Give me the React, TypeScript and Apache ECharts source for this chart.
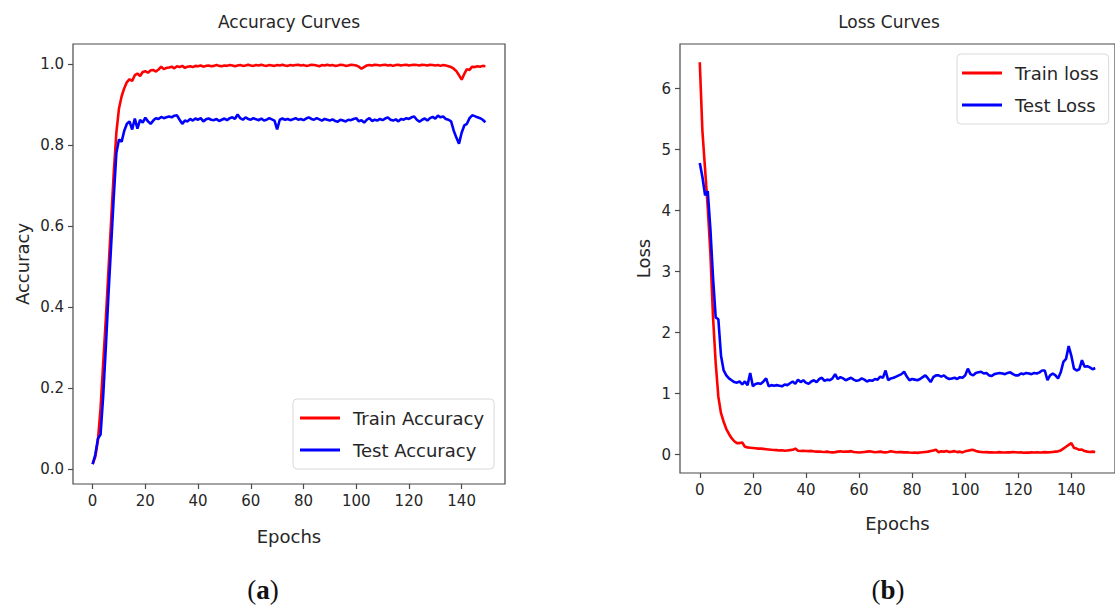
import React, { useEffect, useRef } from "react";
import * as echarts from "echarts";

const epochTicks = [0, 20, 40, 60, 80, 100, 120, 140];
const accTicks = [0, 0.2, 0.4, 0.6, 0.8, 1.0];
const lossTicks = [0, 1, 2, 3, 4, 5, 6];

const trainAcc = [
  0.012, 0.03, 0.07, 0.15, 0.26, 0.37, 0.49, 0.61, 0.73, 0.83,
  0.89, 0.92, 0.94, 0.955, 0.962, 0.958, 0.972, 0.976, 0.97, 0.98,
  0.982, 0.978, 0.984, 0.985, 0.981, 0.986, 0.993, 0.987, 0.99, 0.991,
  0.993, 0.989, 0.994, 0.992, 0.995, 0.99, 0.993, 0.994, 0.992, 0.995,
  0.994, 0.996, 0.993, 0.995, 0.996, 0.994, 0.995, 0.997, 0.995, 0.994,
  0.996, 0.995, 0.997, 0.996, 0.994, 0.996, 0.997, 0.995, 0.996, 0.998,
  0.996, 0.995, 0.997, 0.996, 0.998, 0.996, 0.995, 0.997, 0.996, 0.995,
  0.997, 0.996, 0.998, 0.996, 0.995, 0.997, 0.996, 0.997, 0.998, 0.996,
  0.997, 0.995, 0.996, 0.998, 0.997, 0.996, 0.994, 0.997, 0.996, 0.998,
  0.996, 0.997, 0.995, 0.996, 0.998, 0.997, 0.995, 0.996, 0.998, 0.997,
  0.996, 0.993, 0.988, 0.992, 0.996, 0.997, 0.996, 0.998, 0.997, 0.996,
  0.997, 0.998, 0.996, 0.997, 0.995, 0.997, 0.998, 0.996, 0.997, 0.998,
  0.996, 0.997, 0.998, 0.997, 0.996, 0.998, 0.997, 0.996, 0.998, 0.997,
  0.996, 0.997, 0.995, 0.997, 0.996, 0.994, 0.992, 0.988, 0.982, 0.972,
  0.961, 0.975, 0.987, 0.985, 0.993, 0.992, 0.994, 0.993, 0.995, 0.994,
];

const testAcc = [
  0.012, 0.035, 0.075, 0.085, 0.18, 0.3, 0.43, 0.55, 0.67, 0.78,
  0.813, 0.808, 0.835, 0.852, 0.858, 0.838, 0.865, 0.84, 0.862, 0.855,
  0.867, 0.858, 0.852, 0.86, 0.866, 0.864, 0.869, 0.866, 0.868, 0.87,
  0.868, 0.872, 0.873, 0.862, 0.852, 0.86, 0.858, 0.864, 0.86, 0.865,
  0.862, 0.866, 0.858, 0.863, 0.865, 0.862, 0.861, 0.864, 0.859, 0.862,
  0.865, 0.861, 0.866, 0.868, 0.864, 0.875, 0.866, 0.862, 0.868, 0.864,
  0.862, 0.866, 0.863, 0.861, 0.865, 0.86, 0.862, 0.866, 0.863, 0.86,
  0.838, 0.862, 0.865, 0.862, 0.864, 0.861, 0.863, 0.866, 0.862, 0.864,
  0.861, 0.865, 0.868, 0.864, 0.862, 0.866, 0.863, 0.86, 0.864, 0.862,
  0.86, 0.863, 0.859, 0.857, 0.862, 0.86, 0.858, 0.862, 0.861, 0.864,
  0.866, 0.858, 0.861, 0.855, 0.862, 0.866, 0.859, 0.862, 0.86, 0.864,
  0.861, 0.865, 0.868, 0.862, 0.86, 0.863, 0.858, 0.864, 0.862, 0.866,
  0.864, 0.868, 0.87, 0.862, 0.857, 0.862, 0.865, 0.86, 0.866, 0.869,
  0.865, 0.872, 0.868, 0.87, 0.864, 0.862, 0.858, 0.835, 0.818, 0.803,
  0.83, 0.848, 0.852, 0.866, 0.873, 0.871, 0.868, 0.866, 0.862, 0.856,
];

const trainLoss = [
  6.43, 5.3, 4.68, 4.05, 3.3, 2.25, 1.5, 0.95, 0.68, 0.54,
  0.42, 0.34, 0.27, 0.22, 0.19, 0.19, 0.2, 0.13, 0.12, 0.115,
  0.11, 0.105, 0.1, 0.1, 0.095, 0.09, 0.085, 0.08, 0.078, 0.075,
  0.07, 0.072, 0.065, 0.07, 0.075, 0.08, 0.1, 0.065, 0.06, 0.065,
  0.06, 0.058, 0.062, 0.055, 0.05, 0.052, 0.048, 0.045, 0.05, 0.04,
  0.038, 0.042, 0.05, 0.055, 0.048, 0.052, 0.05, 0.058, 0.045, 0.04,
  0.035, 0.04, 0.045, 0.05, 0.055, 0.048, 0.04, 0.045, 0.05, 0.042,
  0.038, 0.045, 0.055, 0.048, 0.04, 0.045, 0.042, 0.038, 0.04, 0.035,
  0.032, 0.035, 0.03, 0.035, 0.04, 0.045, 0.05, 0.06, 0.07, 0.08,
  0.04, 0.055, 0.05, 0.06, 0.045, 0.05, 0.058, 0.042, 0.05, 0.038,
  0.055, 0.065, 0.075, 0.08, 0.06, 0.05, 0.045, 0.04, 0.042, 0.038,
  0.04, 0.035, 0.038, 0.042, 0.036, 0.035, 0.04, 0.038, 0.045, 0.04,
  0.035, 0.038, 0.032, 0.036, 0.034, 0.038, 0.035, 0.04, 0.036, 0.038,
  0.042, 0.038, 0.04, 0.045, 0.05, 0.055, 0.07, 0.1, 0.13, 0.16,
  0.19, 0.11, 0.1, 0.08, 0.085, 0.06, 0.05, 0.045, 0.05, 0.045,
];

const testLoss = [
  4.78, 4.55, 4.25, 4.32, 3.7, 2.9, 2.25, 2.22, 1.62, 1.38,
  1.3, 1.25, 1.22, 1.19, 1.18, 1.2, 1.15, 1.2, 1.14, 1.34,
  1.12, 1.16, 1.17, 1.16, 1.2, 1.25, 1.12, 1.14, 1.13, 1.14,
  1.13, 1.12, 1.15, 1.14, 1.17, 1.2, 1.16, 1.23, 1.19, 1.22,
  1.18, 1.16, 1.2, 1.22, 1.19, 1.24, 1.26, 1.21, 1.23, 1.22,
  1.25, 1.32, 1.24, 1.27, 1.25, 1.22, 1.24, 1.26, 1.23, 1.21,
  1.22, 1.25, 1.23, 1.2, 1.22, 1.21, 1.24, 1.23, 1.28, 1.26,
  1.38, 1.22, 1.25, 1.26, 1.28, 1.3, 1.32, 1.36, 1.28, 1.22,
  1.24, 1.23, 1.22, 1.24, 1.27, 1.3, 1.25, 1.19, 1.27, 1.3,
  1.3, 1.28, 1.3, 1.26, 1.24, 1.25, 1.26, 1.24, 1.27, 1.26,
  1.3, 1.41, 1.32, 1.3, 1.34, 1.35, 1.36, 1.33, 1.34, 1.3,
  1.29, 1.32, 1.33, 1.34, 1.33, 1.32, 1.34, 1.35, 1.32, 1.3,
  1.3, 1.33, 1.32, 1.34, 1.33, 1.32, 1.34, 1.33, 1.35, 1.38,
  1.38, 1.22, 1.3, 1.33, 1.3, 1.25, 1.35, 1.52, 1.57, 1.78,
  1.62, 1.41, 1.38, 1.4, 1.55, 1.44, 1.45, 1.43, 1.4, 1.42,
];

const FONT = "DejaVu Sans";
const TXT = "#262626";
const FRAME = "#4a4a4a";

function pairs(arr: number[]) {
  return arr.map((v, i) => [i, v]);
}

function xAxisCfg(gridIndex: number, nameGap: number) {
  return {
    type: "value",
    gridIndex,
    min: -7.45,
    max: 156.45,
    name: "Epochs",
    nameLocation: "middle",
    nameGap,
    nameTextStyle: { fontFamily: FONT, fontSize: 18, color: TXT },
    axisLine: { show: false, onZero: false },
    splitLine: { show: false },
    axisTick: { show: true, length: 5, lineStyle: { color: FRAME, width: 1.2 }, customValues: epochTicks },
    axisLabel: { fontFamily: FONT, fontSize: 15, color: TXT, margin: 9, customValues: epochTicks },
  };
}

export default function App() {
  const ref = useRef<HTMLDivElement>(null);
  useEffect(() => {
    if (!ref.current) return;
    const chart = echarts.init(ref.current, undefined, { renderer: "svg" });
    const legendBase = {
      orient: "vertical",
      icon: "rect",
      itemWidth: 40,
      itemHeight: 3,
      itemGap: 14,
      backgroundColor: "#fff",
      borderColor: "#d9d9d9",
      borderWidth: 1,
      borderRadius: 4,
      textStyle: { fontFamily: FONT, fontSize: 18, color: TXT, padding: [0, 0, 0, 8] },
    };
    chart.setOption({
      animation: false,
      backgroundColor: "#fff",
      grid: [
        { left: 73, top: 44, width: 432, height: 440, show: true, borderColor: FRAME, borderWidth: 1.2, backgroundColor: "transparent" },
        { left: 680, top: 44, width: 445, height: 429, show: true, borderColor: FRAME, borderWidth: 1.2, backgroundColor: "transparent" },
      ],
      xAxis: [xAxisCfg(0, 43), xAxisCfg(1, 41)],
      yAxis: [
        {
          type: "value",
          gridIndex: 0,
          min: -0.037,
          max: 1.049,
          name: "Accuracy",
          nameLocation: "middle",
          nameGap: 42,
          nameTextStyle: { fontFamily: FONT, fontSize: 18, color: TXT },
          axisLine: { show: false, onZero: false },
          splitLine: { show: false },
          axisTick: { show: true, length: 5, lineStyle: { color: FRAME, width: 1.2 }, customValues: accTicks },
          axisLabel: { fontFamily: FONT, fontSize: 15, color: TXT, margin: 9, customValues: accTicks, formatter: (v: number) => v.toFixed(1) },
        },
        {
          type: "value",
          gridIndex: 1,
          min: -0.3,
          max: 6.73,
          name: "Loss",
          nameLocation: "middle",
          nameGap: 28,
          nameTextStyle: { fontFamily: FONT, fontSize: 18, color: TXT },
          axisLine: { show: false, onZero: false },
          splitLine: { show: false },
          axisTick: { show: true, length: 5, lineStyle: { color: FRAME, width: 1.2 }, customValues: lossTicks },
          axisLabel: { fontFamily: FONT, fontSize: 15, color: TXT, margin: 9, customValues: lossTicks },
        },
      ],
      legend: [
        { ...legendBase, left: 293, top: 399, padding: [10, 10, 10, 7], data: ["Train Accuracy", "Test Accuracy"] },
        { ...legendBase, left: 957, top: 54, padding: [10, 10, 10, 5], data: ["Train loss", "Test Loss"] },
      ],
      series: [
        { name: "Train Accuracy", type: "line", xAxisIndex: 0, yAxisIndex: 0, data: pairs(trainAcc), showSymbol: false, symbol: "none", lineStyle: { color: "#ff0000", width: 2.6 }, itemStyle: { color: "#ff0000" } },
        { name: "Test Accuracy", type: "line", xAxisIndex: 0, yAxisIndex: 0, data: pairs(testAcc), showSymbol: false, symbol: "none", lineStyle: { color: "#0000ff", width: 2.6 }, itemStyle: { color: "#0000ff" } },
        { name: "Train loss", type: "line", xAxisIndex: 1, yAxisIndex: 1, data: pairs(trainLoss), showSymbol: false, symbol: "none", lineStyle: { color: "#ff0000", width: 2.6 }, itemStyle: { color: "#ff0000" } },
        { name: "Test Loss", type: "line", xAxisIndex: 1, yAxisIndex: 1, data: pairs(testLoss), showSymbol: false, symbol: "none", lineStyle: { color: "#0000ff", width: 2.6 }, itemStyle: { color: "#0000ff" } },
      ],
      graphic: [
        { type: "text", x: 289, y: 13, style: { text: "Accuracy Curves", fontFamily: FONT, fontSize: 17, fill: TXT, textAlign: "center", textVerticalAlign: "top" } },
        { type: "text", x: 889, y: 13, style: { text: "Loss Curves", fontFamily: FONT, fontSize: 17, fill: TXT, textAlign: "center", textVerticalAlign: "top" } },
        {
          type: "text", x: 263, y: 590,
          style: {
            text: "{n|(}{b|a}{n|)}", textAlign: "center", textVerticalAlign: "middle",
            rich: {
              n: { fontFamily: "Liberation Serif", fontSize: 27, fill: "#111" },
              b: { fontFamily: "Liberation Serif", fontSize: 27, fontWeight: "bold", fill: "#111" },
            },
          },
        },
        {
          type: "text", x: 888, y: 590,
          style: {
            text: "{n|(}{b|b}{n|)}", textAlign: "center", textVerticalAlign: "middle",
            rich: {
              n: { fontFamily: "Liberation Serif", fontSize: 27, fill: "#111" },
              b: { fontFamily: "Liberation Serif", fontSize: 27, fontWeight: "bold", fill: "#111" },
            },
          },
        },
      ],
    });
    return () => chart.dispose();
  }, []);
  return <div ref={ref} style={{ position: "fixed", left: 0, top: 0, width: 1115, height: 608 }} />;
}
